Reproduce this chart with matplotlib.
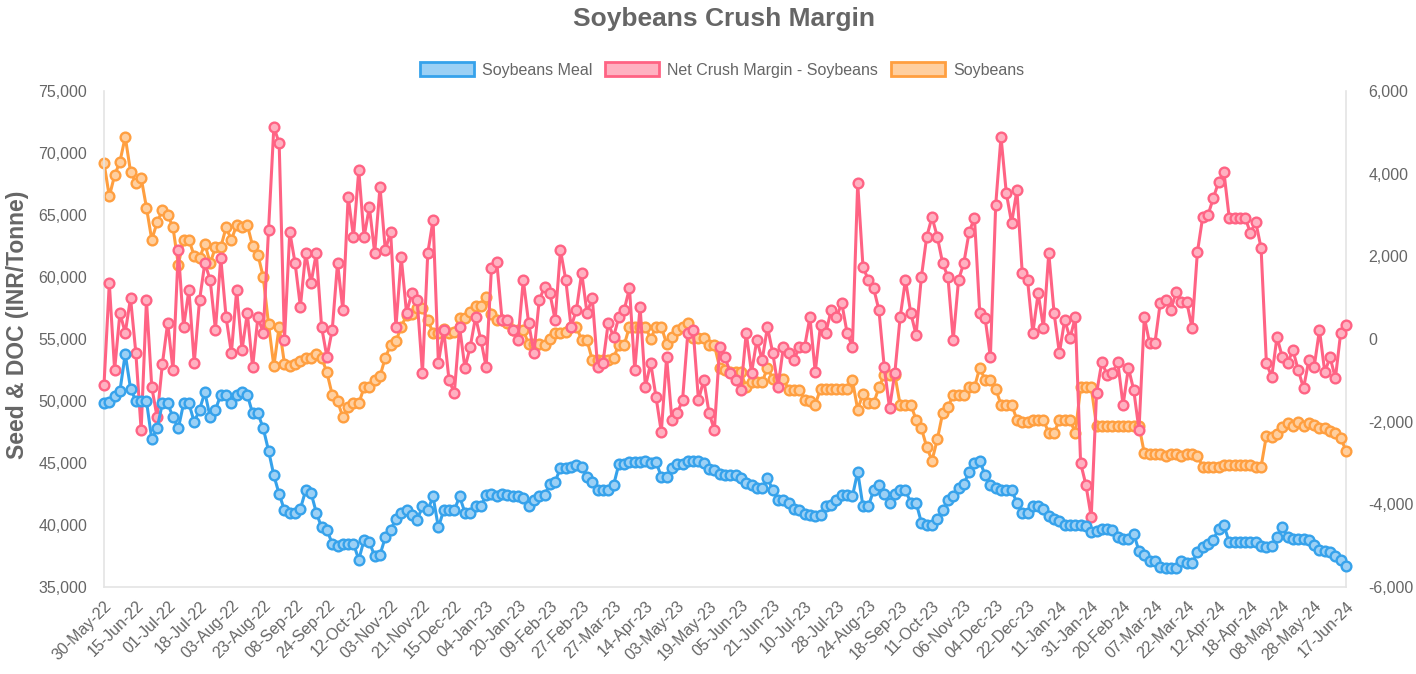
import numpy as np
import matplotlib.pyplot as plt
from matplotlib.patches import Patch
from matplotlib.ticker import FuncFormatter

plt.rcParams['font.family'] = ['Liberation Sans', 'DejaVu Sans']

# one label every 6 points on the category axis
date_labels = ['30-May-22', '15-Jun-22', '01-Jul-22', '18-Jul-22', '03-Aug-22',
               '23-Aug-22', '08-Sep-22', '24-Sep-22', '12-Oct-22', '03-Nov-22',
               '21-Nov-22', '15-Dec-22', '04-Jan-23', '20-Jan-23', '09-Feb-23',
               '27-Feb-23', '27-Mar-23', '14-Apr-23', '03-May-23', '19-May-23',
               '05-Jun-23', '21-Jun-23', '10-Jul-23', '28-Jul-23', '24-Aug-23',
               '18-Sep-23', '11-Oct-23', '06-Nov-23', '04-Dec-23', '22-Dec-23',
               '11-Jan-24', '31-Jan-24', '20-Feb-24', '07-Mar-24', '22-Mar-24',
               '12-Apr-24', '18-Apr-24', '08-May-24', '28-May-24', '17-Jun-24']

# Soybeans Meal, thousand INR/Tonne
meal_k = [
    49.8, 49.9, 50.4, 50.8, 53.8, 51.0,
    50.0, 50.0, 50.0, 46.9, 47.8, 49.8,
    49.8, 48.7, 47.8, 49.8, 49.8, 48.3,
    49.3, 50.7, 48.7, 49.3, 50.5, 50.5,
    49.8, 50.5, 50.7, 50.5, 49.0, 49.0,
    47.8, 46.0, 44.0, 42.5, 41.2, 41.0,
    41.0, 41.3, 42.8, 42.6, 41.0, 39.8,
    39.6, 38.5, 38.3, 38.5, 38.5, 38.5,
    37.2, 38.8, 38.6, 37.5, 37.6, 39.0,
    39.6, 40.5, 41.0, 41.2, 40.8, 40.4,
    41.5, 41.2, 42.3, 39.8, 41.2, 41.2,
    41.2, 42.3, 41.0, 41.0, 41.5, 41.5,
    42.4, 42.5, 42.3, 42.5, 42.4, 42.3,
    42.3, 42.2, 41.5, 42.0, 42.3, 42.4,
    43.3, 43.5, 44.6, 44.6, 44.7, 44.8,
    44.7, 43.9, 43.5, 42.8, 42.8, 42.8,
    43.2, 44.9, 44.9, 45.1, 45.1, 45.1,
    45.2, 45.0, 45.1, 43.9, 43.9, 44.6,
    44.9, 44.9, 45.2, 45.2, 45.2, 45.0,
    44.5, 44.4, 44.1, 44.0, 44.0, 44.0,
    43.8, 43.4, 43.2, 43.0, 43.0, 43.8,
    42.8, 42.0, 42.0, 41.8, 41.3, 41.2,
    40.9, 40.8, 40.7, 40.8, 41.5, 41.6,
    42.0, 42.4, 42.4, 42.3, 44.3, 41.5,
    41.5, 42.8, 43.2, 42.5, 41.8, 42.5,
    42.8, 42.8, 41.8, 41.8, 40.2, 40.0,
    40.0, 40.5, 41.2, 42.0, 42.3, 43.0,
    43.3, 44.3, 45.0, 45.2, 44.0, 43.2,
    43.0, 42.8, 42.8, 42.8, 41.8, 41.0,
    41.0, 41.5, 41.5, 41.3, 40.7, 40.5,
    40.3, 40.0, 40.0, 40.0, 40.0, 39.9,
    39.4, 39.5, 39.7, 39.7, 39.6, 39.0,
    38.9, 38.9, 39.3, 37.9, 37.6, 37.1,
    37.1, 36.6, 36.5, 36.5, 36.5, 37.1,
    36.9, 36.9, 37.8, 38.2, 38.5, 38.8,
    39.7, 40.0, 38.6, 38.6, 38.6, 38.6,
    38.6, 38.6, 38.3, 38.2, 38.3, 39.0,
    39.8, 39.0, 38.9, 38.9, 38.9, 38.8,
    38.4, 38.0, 37.9, 37.8, 37.5, 37.2,
    36.7]

# Soybeans, thousand INR/Tonne
soybeans_k = [
    69.2, 66.5, 68.2, 69.3, 71.3, 68.5,
    67.6, 68.0, 65.6, 63.0, 64.4, 65.4,
    65.0, 64.0, 61.0, 63.0, 63.0, 61.7,
    61.5, 62.7, 61.1, 62.4, 62.4, 64.0,
    63.0, 64.2, 64.0, 64.2, 62.5, 61.8,
    60.0, 56.2, 52.8, 56.0, 53.0, 52.8,
    53.0, 53.2, 53.5, 53.5, 53.8, 53.5,
    52.3, 50.5, 50.0, 48.7, 49.5, 49.8,
    49.8, 51.1, 51.1, 51.7, 52.0, 53.5,
    54.5, 54.8, 56.0, 56.9, 57.0, 57.5,
    57.5, 56.5, 55.5, 55.5, 55.8, 55.5,
    55.6, 56.7, 56.7, 57.2, 57.7, 57.7,
    58.4, 57.0, 56.5, 56.5, 56.3, 55.7,
    55.7, 55.7, 54.6, 54.6, 54.6, 54.5,
    55.0, 55.5, 55.5, 55.6, 56.0, 56.0,
    54.9, 54.9, 53.3, 53.3, 53.3, 53.3,
    53.5, 54.5, 54.5, 56.0, 56.0, 56.0,
    56.0, 55.0, 56.0, 56.0, 54.6, 55.2,
    55.7, 56.0, 56.3, 55.1, 55.1, 55.1,
    54.5, 54.5, 52.7, 52.5, 52.3, 52.3,
    52.3, 51.1, 51.5, 51.5, 51.5, 52.7,
    51.8, 51.8, 51.8, 50.9, 50.9, 50.9,
    50.1, 50.0, 49.7, 51.0, 51.0, 51.0,
    51.0, 51.0, 51.0, 51.7, 49.3, 50.6,
    49.8, 49.8, 51.1, 52.1, 52.1, 52.1,
    49.7, 49.7, 49.7, 48.5, 47.8, 46.3,
    45.2, 46.9, 49.0, 49.5, 50.5, 50.5,
    50.5, 51.1, 51.1, 52.7, 51.7, 51.7,
    51.0, 49.7, 49.7, 49.7, 48.5, 48.3,
    48.3, 48.5, 48.5, 48.5, 47.4, 47.4,
    48.5, 48.5, 48.5, 47.4, 51.1, 51.1,
    51.1, 48.0, 48.0, 48.0, 48.0, 48.0,
    48.0, 48.0, 48.0, 48.0, 45.8, 45.7,
    45.7, 45.7, 45.6, 45.7, 45.7, 45.6,
    45.7, 45.7, 45.6, 44.7, 44.7, 44.7,
    44.7, 44.8, 44.8, 44.8, 44.8, 44.8,
    44.8, 44.7, 44.7, 47.2, 47.1, 47.3,
    47.9, 48.2, 48.0, 48.3, 48.0, 48.2,
    48.1, 47.8, 47.8, 47.6, 47.4, 47.0,
    46.0]

# Net Crush Margin - Soybeans, thousand INR/Tonne (right axis)
margin_k = [
    -1.11, 1.35, -0.75, 0.63, 0.15, 0.99,
    -0.34, -2.20, 0.94, -1.16, -1.89, -0.60,
    0.39, -0.75, 2.15, 0.29, 1.19, -0.58,
    0.94, 1.84, 1.43, 0.22, 1.96, 0.53,
    -0.34, 1.19, -0.27, 0.63, -0.68, 0.53,
    0.15, 2.64, 5.13, 4.74, -0.02, 2.59,
    1.84, 0.78, 2.08, 1.35, 2.08, 0.29,
    -0.44, 0.22, 1.84, 0.70, 3.44, 2.47,
    4.08, 2.47, 3.19, 2.08, 3.68, 2.15,
    2.59, 0.29, 1.98, 0.63, 1.11, 0.94,
    -0.82, 2.08, 2.88, -0.58, 0.22, -0.99,
    -1.31, 0.29, -0.70, -0.19, 0.53, -0.02,
    -0.68, 1.72, 1.86, 0.46, 0.46, 0.22,
    -0.02, 1.43, 0.39, -0.34, 0.94, 1.26,
    1.11, 0.46, 2.15, 1.43, 0.29, 0.70,
    1.60, 0.63, 0.99, -0.68, -0.58, 0.39,
    0.05, 0.53, 0.70, 1.23, -0.75, 0.78,
    -1.16, -0.58, -1.40, -2.25, -0.44, -1.96,
    -1.79, -1.48, 0.15, 0.22, -1.48, -0.99,
    -1.79, -2.20, -0.19, -0.44, -0.82, -0.99,
    -1.23, 0.15, -0.82, -0.02, -0.51, 0.29,
    -0.34, -1.16, -0.19, -0.34, -0.51, -0.19,
    -0.19, 0.53, -0.80, 0.34, 0.15, 0.70,
    0.53, 0.87, 0.15, -0.19, 3.77, 1.74,
    1.43, 1.23, 0.70, -0.68, -1.67, -0.82,
    0.53, 1.43, 0.63, 0.10, 1.50, 2.47,
    2.95, 2.47, 1.84, 1.50, -0.02, 1.43,
    1.84, 2.59, 2.93, 0.63, 0.51, -0.44,
    3.24, 4.89, 3.53, 2.81, 3.60, 1.60,
    1.43, 0.15, 1.11, 0.27, 2.08, 0.63,
    -0.34, 0.46, 0.02, 0.53, -3.00, -3.53,
    -4.31, -1.31, -0.56, -0.87, -0.82, -0.56,
    -1.60, -0.70, -1.23, -2.20, 0.53, -0.10,
    -0.10, 0.87, 0.94, 0.70, 1.14, 0.89,
    0.89, 0.27, 2.10, 2.95, 3.00, 3.41,
    3.80, 4.04, 2.93, 2.93, 2.93, 2.93,
    2.57, 2.83, 2.20, -0.58, -0.92, 0.05,
    -0.44, -0.58, -0.27, -0.75, -1.19, -0.51,
    -0.68, 0.22, -0.80, -0.44, -0.95, 0.15,
    0.34]

meal = np.array(meal_k) * 1000
soybeans = np.array(soybeans_k) * 1000
margin = np.array(margin_k) * 1000
x = np.arange(len(meal))

GREY = '#666666'
BLUE, PINK, ORANGE = '#36A2EB', '#FF6384', '#FF9F40'
BLUE_L, PINK_L, ORANGE_L = '#9BD0F5', '#FFB1C1', '#FFCF9F'


# right axis (-6000..6000) spans the same height as the left one (35000..75000)
def to_left(r):
    return 55000 + r * 10 / 3


def to_right(v):
    return (v - 55000) * 3 / 10


fig = plt.figure(figsize=(14.16, 6.74), dpi=100)
ax = fig.add_axes([104 / 1416, 87 / 674, 1242 / 1416, 496 / 674])

style = dict(lw=2.2, marker='o', ms=7, mew=1.7, clip_on=False)
ax.plot(x, soybeans, color=ORANGE, mfc=ORANGE_L, zorder=2, **style)
ax.plot(x, to_left(margin), color=PINK, mfc=PINK_L, zorder=3, **style)
ax.plot(x, meal, color=BLUE, mfc=BLUE_L, zorder=4, **style)

ax.set_xlim(0, len(x) - 1)
ax.set_ylim(35000, 75000)
ax.set_yticks(range(35000, 75001, 5000))
ax.yaxis.set_major_formatter(FuncFormatter(lambda v, p: '{:,.0f}'.format(v)))
ax.set_xticks(x[::6])
ax.set_xticklabels(date_labels, rotation=45, ha='right', va='top',
                   rotation_mode='anchor')
ax.tick_params(axis='y', length=0, pad=12, labelsize=11.5, labelcolor=GREY)
ax.tick_params(axis='x', length=0, pad=8, labelsize=11.5, labelcolor=GREY)

sec = ax.secondary_yaxis('right', functions=(to_right, to_left))
sec.set_yticks(range(-6000, 6001, 2000))
sec.yaxis.set_major_formatter(FuncFormatter(lambda v, p: '{:,.0f}'.format(v)))
sec.tick_params(length=0, pad=16, labelsize=11.5, labelcolor=GREY)

for s in ['top', 'right']:
    ax.spines[s].set_visible(False)
for s in ['left', 'bottom']:
    ax.spines[s].set_color('#e4e4e4')
    ax.spines[s].set_linewidth(1.2)
sec.spines['right'].set_color('#e4e4e4')
sec.spines['right'].set_linewidth(1.2)

fig.text(724 / 1416, 1 - 19 / 674, 'Soybeans Crush Margin', ha='center',
         va='center', fontsize=19, fontweight='bold', color=GREY)
fig.text(18 / 1416, 1 - 325 / 674, 'Seed & DOC (INR/Tonne)', rotation=90,
         ha='center', va='center', fontsize=16.5, fontweight='bold', color=GREY)

handles = [Patch(facecolor=BLUE_L, edgecolor=BLUE, lw=2),
           Patch(facecolor=PINK_L, edgecolor=PINK, lw=2),
           Patch(facecolor=ORANGE_L, edgecolor=ORANGE, lw=2)]
fig.legend(handles, ['Soybeans Meal', 'Net Crush Margin - Soybeans', 'Soybeans'],
           loc='center', bbox_to_anchor=(722 / 1416, 1 - 70 / 674), ncol=3,
           frameon=False, handlelength=3.4, handleheight=1.0, handletextpad=0.5,
           columnspacing=0.8, fontsize=11.5, labelcolor=GREY)

fig.savefig('out.png', dpi=100)
